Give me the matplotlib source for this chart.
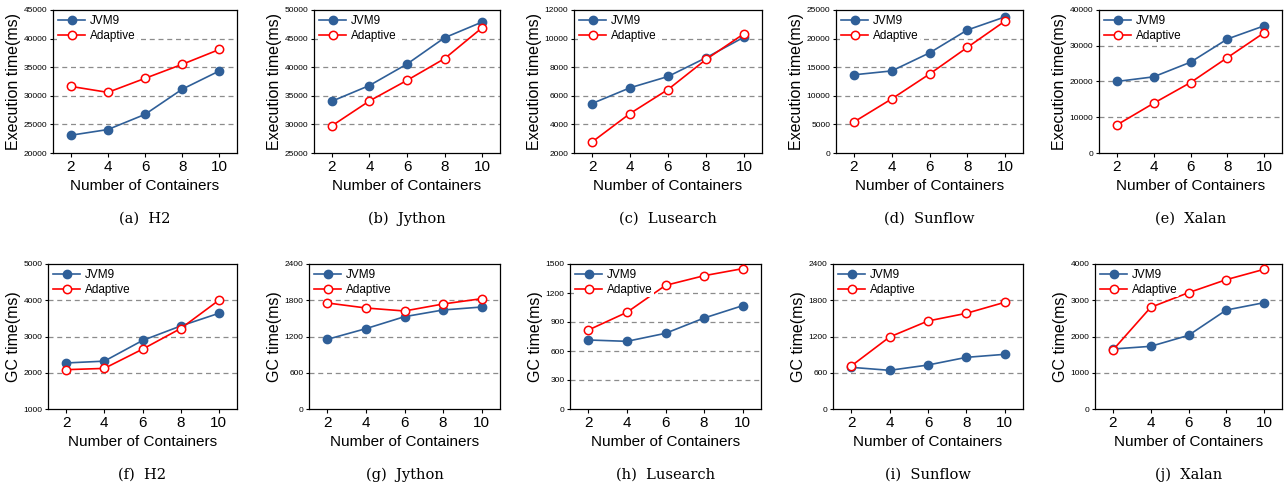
import matplotlib
matplotlib.use("Agg")
import matplotlib.pyplot as plt
from matplotlib.ticker import MultipleLocator

plt.rcParams['font.family'] = ['Liberation Sans', 'DejaVu Sans']

containers = [2, 4, 6, 8, 10]

# Execution time (ms)
h2_exec_jvm9 = [23100, 24100, 26750, 31150, 34350]
h2_exec_adaptive = [31650, 30600, 33050, 35500, 38100]
jython_exec_jvm9 = [34050, 36800, 40550, 45150, 47900]
jython_exec_adaptive = [29750, 34100, 37700, 41500, 46900]
lusearch_exec_jvm9 = [5460, 6560, 7350, 8660, 10100]
lusearch_exec_adaptive = [2770, 4760, 6440, 8540, 10340]
sunflow_exec_jvm9 = [13670, 14350, 17500, 21500, 23800]
sunflow_exec_adaptive = [5430, 9460, 13800, 18460, 23070]
xalan_exec_jvm9 = [20000, 21300, 25400, 31900, 35600]
xalan_exec_adaptive = [7800, 13900, 19700, 26700, 33700]

# GC time (ms)
h2_gc_jvm9 = [2270, 2320, 2890, 3290, 3640]
h2_gc_adaptive = [2085, 2120, 2650, 3220, 4000]
jython_gc_jvm9 = [1153, 1330, 1528, 1639, 1688]
jython_gc_adaptive = [1755, 1672, 1622, 1738, 1826]
lusearch_gc_jvm9 = [714, 700, 783, 941, 1069]
lusearch_gc_adaptive = [817, 1000, 1279, 1379, 1452]
sunflow_gc_jvm9 = [690, 640, 728, 855, 905]
sunflow_gc_adaptive = [712, 1192, 1457, 1584, 1766]
xalan_gc_jvm9 = [1655, 1729, 2032, 2730, 2933]
xalan_gc_adaptive = [1628, 2805, 3209, 3568, 3853]

captions_top = ["(a)  H2", "(b)  Jython", "(c)  Lusearch", "(d)  Sunflow", "(e)  Xalan"]
captions_bot = ["(f)  H2", "(g)  Jython", "(h)  Lusearch", "(i)  Sunflow", "(j)  Xalan"]

top_data = [(h2_exec_jvm9, h2_exec_adaptive), (jython_exec_jvm9, jython_exec_adaptive),
            (lusearch_exec_jvm9, lusearch_exec_adaptive), (sunflow_exec_jvm9, sunflow_exec_adaptive),
            (xalan_exec_jvm9, xalan_exec_adaptive)]
bot_data = [(h2_gc_jvm9, h2_gc_adaptive), (jython_gc_jvm9, jython_gc_adaptive),
            (lusearch_gc_jvm9, lusearch_gc_adaptive), (sunflow_gc_jvm9, sunflow_gc_adaptive),
            (xalan_gc_jvm9, xalan_gc_adaptive)]

top_ylims = [(20000, 45000, 5000), (25000, 50000, 5000), (2000, 12000, 2000), (0, 25000, 5000), (0, 40000, 10000)]
bot_ylims = [(1000, 5000, 1000), (0, 2400, 600), (0, 1500, 300), (0, 2400, 600), (0, 4000, 1000)]

W, H = 1285, 491
fig = plt.figure(figsize=(W / 100, H / 100), dpi=100)

top_x = [(53, 237), (314, 500), (574, 762), (836, 1023), (1099, 1282)]
bot_x = [(48, 237), (309, 500), (570, 761), (833, 1023), (1095, 1282)]

blue = '#2F5F98'
red = '#FF0000'


def make_panel(xr, yr, data, ylim, ylabel, caption):
    x0, x1 = xr
    y0, y1 = yr
    ax = fig.add_axes([x0 / W, 1 - y1 / H, (x1 - x0) / W, (y1 - y0) / H])
    j, a = data
    ax.plot(containers, j, '-o', color=blue, lw=1.2, ms=6, mfc=blue, mec=blue, label='JVM9', zorder=3)
    ax.plot(containers, a, '-o', color=red, lw=1.2, ms=6, mfc='white', mec=red, mew=1.1,
            label='Adaptive', zorder=3)
    lo, hi, step = ylim
    ax.set_ylim(lo, hi)
    ax.set_xlim(1.05, 10.95)
    ax.set_xticks(containers)
    ax.yaxis.set_major_locator(MultipleLocator(step))
    for v in range(lo + step, hi, step):
        ax.axhline(v, color='#8c8c8c', ls=(0, (4, 3)), lw=0.9, zorder=1)
    ax.tick_params(axis='x', labelsize=11, direction='out', length=3, width=0.8, pad=2)
    ax.tick_params(axis='y', labelsize=6, direction='out', length=2.5, width=0.8, pad=1.5)
    for s in ax.spines.values():
        s.set_linewidth(0.9)
    ax.set_xlabel('Number of Containers', fontsize=11, labelpad=4)
    ax.set_ylabel(ylabel, fontsize=11.5, labelpad=2)
    leg = ax.legend(loc='upper left', fontsize=8.5, frameon=True, framealpha=1, edgecolor='none',
                    borderpad=0.15, handlelength=2.3, handletextpad=0.35, labelspacing=0.2,
                    borderaxespad=0.3)
    leg.set_zorder(5)
    cx = (x0 + x1) / 2 / W
    cy = 1 - (y1 + 66) / H
    fig.text(cx, cy, caption, ha='center', va='center', fontsize=10.5,
             family=['DejaVu Serif'])
    return ax


for i in range(5):
    make_panel(top_x[i], (10, 153), top_data[i], top_ylims[i], 'Execution time(ms)', captions_top[i])
    make_panel(bot_x[i], (264, 409), bot_data[i], bot_ylims[i], 'GC time(ms)', captions_bot[i])

fig.savefig('out.png', dpi=100)
